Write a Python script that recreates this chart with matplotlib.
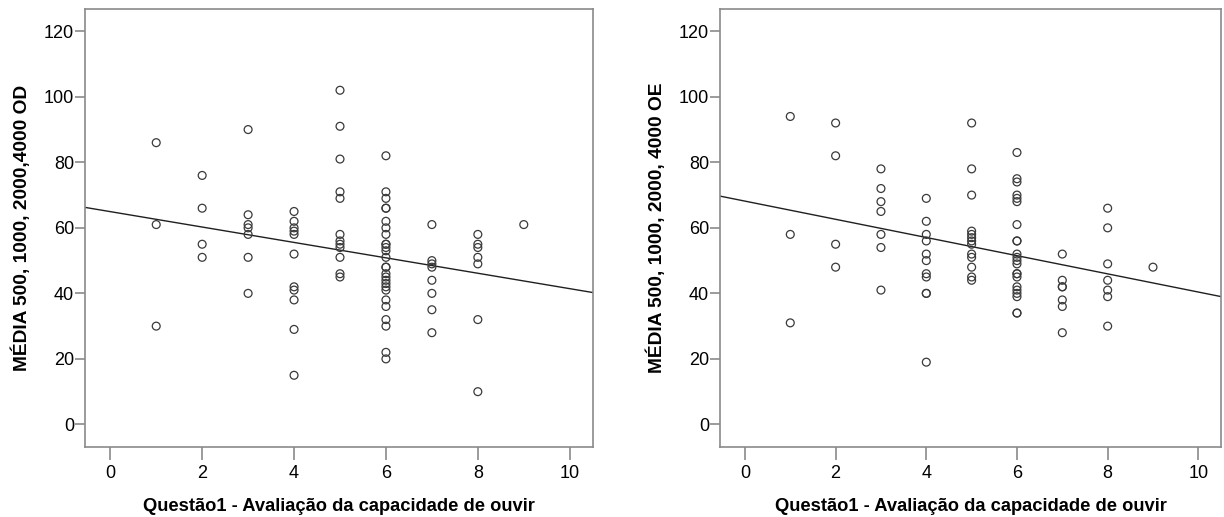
import numpy as np
import matplotlib
matplotlib.use("Agg")
import matplotlib.pyplot as plt

plt.rcParams['font.family'] = ['Liberation Sans', 'DejaVu Sans']

# Left panel (OD): x = Questão1 score, y = mean threshold
od_groups = {
    1: [86, 61, 30],
    2: [76, 66, 55, 51],
    3: [90, 64, 61, 60, 58, 51, 40],
    4: [65, 62, 60, 59, 58, 52, 42, 41, 38, 29, 15],
    5: [102, 91, 81, 71, 69, 58, 56, 55, 54, 51, 46, 45],
    6: [82, 71, 69, 66, 66, 62, 60, 58, 55, 55, 54, 53, 51, 48, 48, 46, 45,
        44, 43, 42, 41, 38, 36, 32, 30, 22, 20],
    7: [61, 50, 49, 48, 44, 40, 35, 28],
    8: [58, 55, 54, 51, 49, 32, 10],
    9: [61],
}

# Right panel (OE)
oe_groups = {
    1: [94, 58, 31],
    2: [92, 82, 55, 48],
    3: [78, 72, 68, 65, 58, 54, 41],
    4: [69, 62, 58, 56, 52, 50, 46, 45, 40, 40, 19],
    5: [92, 78, 70, 59, 58, 57, 56, 55, 52, 51, 48, 45, 44],
    6: [83, 75, 74, 70, 69, 68, 61, 56, 56, 52, 51, 50, 49, 46, 46, 45, 42,
        41, 40, 39, 34, 34],
    7: [52, 44, 42, 42, 38, 36, 28],
    8: [66, 60, 49, 44, 41, 39, 30],
    9: [48],
}

xlabel = "Questão1 - Avaliação da capacidade de ouvir"
ylabels = ["MÉDIA 500, 1000, 2000,4000 OD", "MÉDIA 500, 1000, 2000, 4000 OE"]
xticks = [0, 2, 4, 6, 8, 10]
yticks = [0, 20, 40, 60, 80, 100, 120]


def flatten(groups):
    xs, ys = [], []
    for k, vals in groups.items():
        xs += [k] * len(vals)
        ys += vals
    return np.array(xs, float), np.array(ys, float)


fig = plt.figure(figsize=(12.24, 5.17), dpi=100)
positions = [
    [85 / 1224, 1 - 446.7 / 517, (592.7 - 85) / 1224, (446.7 - 9) / 517],
    [720 / 1224, 1 - 446.7 / 517, (1221 - 720) / 1224, (446.7 - 9) / 517],
]
spine_col = "#8a8a8a"
for pos, groups, ylab in zip(positions, [od_groups, oe_groups], ylabels):
    ax = fig.add_axes(pos)
    x, y = flatten(groups)
    xlim = (-0.55, 10.5)
    ax.set_xlim(*xlim)
    ax.set_ylim(-6.8, 126.8)
    ax.scatter(x, y, s=32, facecolors="none", edgecolors="#3a3a3a",
               linewidths=0.9, zorder=3)
    b, a = np.polyfit(x, y, 1)
    xx = np.array(xlim)
    ax.plot(xx, a + b * xx, color="#202020", linewidth=1.0, zorder=2)
    ax.set_xticks(xticks)
    ax.set_yticks(yticks)
    for s in ax.spines.values():
        s.set_color(spine_col)
        s.set_linewidth(1.2)
    ax.tick_params(axis="x", direction="out", length=9, width=1.2,
                   color=spine_col, labelsize=13, pad=4)
    ax.tick_params(axis="y", direction="out", length=7, width=1.2,
                   color=spine_col, labelsize=13, pad=1)
    ax.set_xlabel(xlabel, fontsize=13.2, fontweight="bold", labelpad=12)
    ax.set_ylabel(ylab, fontsize=13.8, fontweight="bold", labelpad=9)

fig.savefig("out.png", dpi=100)
